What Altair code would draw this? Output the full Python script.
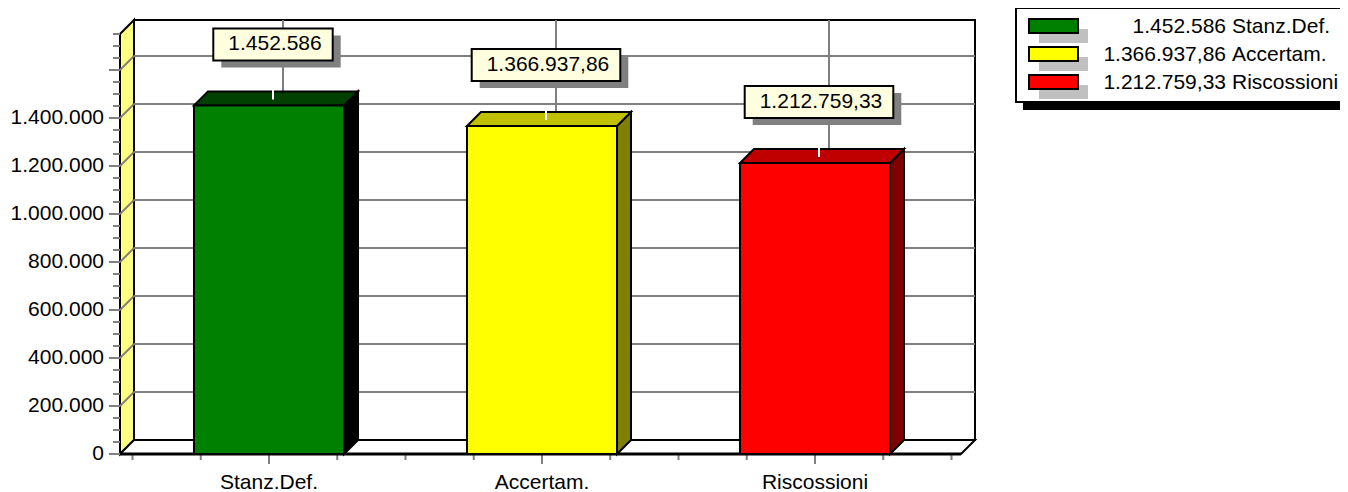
import json
import altair as alt
import pandas as pd

# ---------------- data ----------------
categories = ["Stanz.Def.", "Accertam.", "Riscossioni"]
values = [1452586.00, 1366937.86, 1212759.33]
value_labels = ["1.452.586", "1.366.937,86", "1.212.759,33"]
front_colors = ["#008000", "#FFFF00", "#FF0000"]
top_colors = ["#004000", "#C0C000", "#C00000"]
side_colors = ["#000000", "#808000", "#800000"]
y_major = [0, 200000, 400000, 600000, 800000, 1000000, 1200000, 1400000, 1600000]
y_labeled = [0, 200000, 400000, 600000, 800000, 1000000, 1200000, 1400000]
y_minor = list(range(0, 1750001, 50000))
y_top = 1750000

# ---------------- geometry / style ----------------
W, H = 855, 435
LEFT, TOP = 120, 19          # page position of the plot area
STEP = 273.0                 # px per category
Y_MAX = 1812500.0
PXY = Y_MAX / H              # value units per px
X0 = -149 / STEP
X_MAX = X0 + W / STEP
DX = 14 / STEP               # depth in x units
DY = 14 * PXY                # depth in y units
XFR = X_MAX - DX
HALF = 75 / STEP
FONT = "Liberation Sans"
FS = 21
GRAY = "#808080"


def px(p):
    return p / STEP


def py(p):
    return p * PXY


def page_x(p):
    return X0 + (p - LEFT) / STEP


def page_y(p):
    return Y_MAX - (p - TOP) * PXY


xs = alt.Scale(domain=[X0, X_MAX], nice=False, zero=False)
ys = alt.Scale(domain=[0, Y_MAX], nice=False, zero=False)


def X(f="x"):
    return alt.X(f"{f}:Q", scale=xs, axis=None)


def Y(f="y"):
    return alt.Y(f"{f}:Q", scale=ys, axis=None)


# back wall
back = alt.Chart(pd.DataFrame([{"x": X0 + DX, "x2": X_MAX, "y": DY, "y2": y_top + DY}])).mark_rect(
    fill="white", stroke="black", strokeWidth=2
).encode(x=X(), x2="x2:Q", y=Y(), y2="y2:Q")

# left wall
lwall = alt.Chart(pd.DataFrame([
    {"x": X0, "y": y_top, "y2": 0},
    {"x": X0 + DX, "y": y_top + DY, "y2": DY},
])).mark_area(fill="#FFFF80", stroke="black", strokeWidth=2, orient="vertical").encode(
    x=X(), y=Y(), y2="y2:Q")

# floor
floor = alt.Chart(pd.DataFrame([
    {"y": 0, "x": X0, "x2": XFR},
    {"y": DY, "x": X0 + DX, "x2": X_MAX},
])).mark_area(fill="white", stroke="black", strokeWidth=2, orient="horizontal").encode(
    y=Y(), x=X(), x2="x2:Q")

# grid lines
grid_back = alt.Chart(pd.DataFrame([{"x": X0 + DX, "x2": X_MAX, "y": v + DY} for v in y_major[1:]])).mark_rule(
    color=GRAY, strokeWidth=2).encode(x=X(), x2="x2:Q", y=Y())
grid_left = alt.Chart(pd.DataFrame([{"x": X0, "x2": X0 + DX, "y": v, "y2": v + DY} for v in y_major[1:]])).mark_rule(
    color=GRAY, strokeWidth=2).encode(x=X(), x2="x2:Q", y=Y(), y2="y2:Q")
grid_vert = alt.Chart(pd.DataFrame([{"x": i + DX, "y": DY, "y2": y_top + DY} for i in range(len(categories))])).mark_rule(
    color=GRAY, strokeWidth=2).encode(x=X(), y=Y(), y2="y2:Q")

# y ticks + labels
yt_major = alt.Chart(pd.DataFrame([{"x": X0 - px(11), "x2": X0, "y": v} for v in y_major])).mark_rule(
    color=GRAY, strokeWidth=2).encode(x=X(), x2="x2:Q", y=Y())
yt_minor = alt.Chart(pd.DataFrame([{"x": X0 - px(7), "x2": X0, "y": v} for v in y_minor])).mark_rule(
    color=GRAY, strokeWidth=2).encode(x=X(), x2="x2:Q", y=Y())
ylab = alt.Chart(pd.DataFrame([{"x": X0 - px(16), "y": v, "t": f"{v:,}".replace(",", ".")} for v in y_labeled])).mark_text(
    font=FONT, fontSize=FS, color="black", align="right", baseline="middle").encode(x=X(), y=Y(), text="t:N")

# x ticks + labels
xt_rows = []
for k in range(4 * len(categories) + 1):
    xv = -0.5 + 0.25 * k
    xt_rows.append({"x": xv, "y": 0, "y2": -py(10 if k % 4 == 2 else 6)})
xt = alt.Chart(pd.DataFrame(xt_rows)).mark_rule(color=GRAY, strokeWidth=2).encode(x=X(), y=Y(), y2="y2:Q")
xlab = alt.Chart(pd.DataFrame([{"x": i, "y": -py(35), "t": c} for i, c in enumerate(categories)])).mark_text(
    font=FONT, fontSize=FS, color="black", align="center", baseline="alphabetic").encode(x=X(), y=Y(), text="t:N")

front_line = alt.Chart(pd.DataFrame([{"x": X0, "x2": XFR, "y": 0}])).mark_rule(
    color="black", strokeWidth=3).encode(x=X(), x2="x2:Q", y=Y())

# bars
side_rows, top_rows, front_rows, lab_rows = [], [], [], []
for i, (c, v) in enumerate(zip(categories, values)):
    xl, xr = i - HALF, i + HALF
    side_rows += [{"b": c, "x": xr, "y": v, "y2": 0, "c": side_colors[i]},
                  {"b": c, "x": xr + DX, "y": v + DY, "y2": DY, "c": side_colors[i]}]
    top_rows += [{"b": c, "y": v, "x": xl, "x2": xr, "c": top_colors[i]},
                 {"b": c, "y": v + DY, "x": xl + DX, "x2": xr + DX, "c": top_colors[i]}]
    front_rows.append({"b": c, "x": xl, "x2": xr, "y": 0, "y2": v, "c": front_colors[i]})
    t = value_labels[i]
    tw = sum(0.556 if ch.isdigit() else 0.278 for ch in t) * FS
    cx = i + px(4)
    lab_rows.append({"t": t, "x": cx - px(tw / 2 + 13), "x2": cx + px(tw / 2 + 13),
                     "y": v + py(45), "y2": v + py(77), "tx": cx + px(2), "ty": v + py(61),
                     "wx": cx, "wy": v + py(6), "wy2": v + py(20)})

side = alt.Chart(pd.DataFrame(side_rows)).mark_area(stroke="black", strokeWidth=2, orient="vertical").encode(
    x=X(), y=Y(), y2="y2:Q", detail="b:N", fill=alt.Fill("c:N", scale=None))
topf = alt.Chart(pd.DataFrame(top_rows)).mark_area(stroke="black", strokeWidth=2, orient="horizontal").encode(
    y=Y(), x=X(), x2="x2:Q", detail="b:N", fill=alt.Fill("c:N", scale=None))
front = alt.Chart(pd.DataFrame(front_rows)).mark_rect(stroke="black", strokeWidth=2).encode(
    x=X(), x2="x2:Q", y=Y(), y2="y2:Q", fill=alt.Fill("c:N", scale=None))

labs = pd.DataFrame(lab_rows)
white_tick = alt.Chart(labs).mark_rule(color="white", strokeWidth=2).encode(x=X("wx"), y=Y("wy"), y2="wy2:Q")
lab_shadow = alt.Chart(labs).mark_rect(fill=GRAY, xOffset=8, x2Offset=8, yOffset=7, y2Offset=7).encode(
    x=X(), x2="x2:Q", y=Y(), y2="y2:Q")
lab_box = alt.Chart(labs).mark_rect(fill="#FFFFE0", stroke="black", strokeWidth=2).encode(
    x=X(), x2="x2:Q", y=Y(), y2="y2:Q")
lab_text = alt.Chart(labs).mark_text(font=FONT, fontSize=FS, color="black", baseline="middle", align="center").encode(
    x=X("tx"), y=Y("ty"), text="t:N")

# ---------------- legend panel (page-pixel layout mapped through the scales) ----------------
box_df = pd.DataFrame([{"x": page_x(1016), "x2": page_x(1343), "y": page_y(8), "y2": page_y(102)}])
leg_shadow = alt.Chart(box_df).mark_rect(fill="black", xOffset=7, x2Offset=7, yOffset=8, y2Offset=8).encode(
    x=X(), x2="x2:Q", y=Y(), y2="y2:Q")
leg_box = alt.Chart(box_df).mark_rect(fill="white", stroke="black", strokeWidth=2).encode(
    x=X(), x2="x2:Q", y=Y(), y2="y2:Q")
rows = pd.DataFrame([{"x": page_x(1029), "x2": page_x(1078),
                      "y": page_y(19 + 28 * r), "y2": page_y(33 + 28 * r), "ty": page_y(26.5 + 28 * r),
                      "c": front_colors[r], "v": value_labels[r], "n": categories[r],
                      "vx": page_x(1226), "nx": page_x(1232)}
                     for r in range(len(categories))])
sw_shadow = alt.Chart(rows).mark_rect(fill="#C0C0C0", xOffset=10, x2Offset=10, yOffset=10, y2Offset=10).encode(
    x=X(), x2="x2:Q", y=Y(), y2="y2:Q")
sw = alt.Chart(rows).mark_rect(stroke="black", strokeWidth=2).encode(
    x=X(), x2="x2:Q", y=Y(), y2="y2:Q", fill=alt.Fill("c:N", scale=None))
leg_val = alt.Chart(rows).mark_text(font=FONT, fontSize=FS, color="black", align="right", baseline="middle").encode(
    x=X("vx"), y=Y("ty"), text="v:N")
leg_name = alt.Chart(rows).mark_text(font=FONT, fontSize=FS, color="black", align="left", baseline="middle").encode(
    x=X("nx"), y=Y("ty"), text="n:N")

chart = alt.layer(back, lwall, grid_back, grid_left, grid_vert, floor, yt_minor, yt_major, ylab, xt, xlab,
                  front_line, side, topf, front, white_tick, lab_shadow, lab_box, lab_text,
                  leg_shadow, leg_box, sw_shadow, sw, leg_val, leg_name).properties(
    width=W, height=H,
    padding={"left": LEFT - 8, "top": TOP - 8, "right": 1348 - 8 - LEFT - W, "bottom": 38},
    autosize=alt.AutoSizeParams(type="none"),
    background="white",
).configure_view(strokeWidth=0)

chart.save("out.html", embed_options={"renderer": "svg", "actions": False})
